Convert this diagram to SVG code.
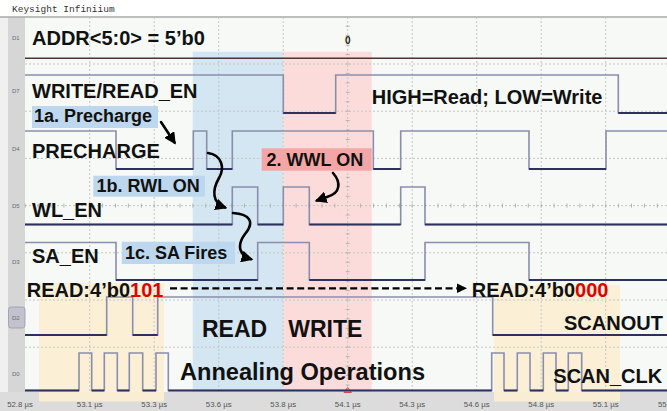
<svg xmlns="http://www.w3.org/2000/svg" width="667" height="411" viewBox="0 0 667 411">
<defs>
<style>
.bg{fill:#f6f9f6}
.grid{stroke:#c4c8c4;stroke-width:1;stroke-dasharray:2,2;fill:none}
.tick{stroke:#b0b4b0;stroke-width:1;fill:none}
.wave{fill:none;stroke:#8a8eac;stroke-width:1.6}
.low{fill:none;stroke:#2c315e;stroke-width:1.8}
.name{font-family:"Liberation Sans",Arial,sans-serif;font-weight:bold;font-size:20px;fill:#111}
.ann{font-family:"Liberation Sans",Arial,sans-serif;font-weight:bold;font-size:18px;fill:#111}
.big{font-family:"Liberation Sans",Arial,sans-serif;font-weight:bold;font-size:23px;fill:#111}
.ch{font-family:"Liberation Sans",Arial,sans-serif;font-size:6px;fill:#6a6a7a}
.time{font-family:"Liberation Sans",Arial,sans-serif;font-size:7.8px;fill:#555}
.red{fill:#e00000}
.arr{fill:none;stroke:#000;stroke-width:2.6;stroke-linecap:round}
</style>
<marker id="ah" viewBox="0 0 10 10" refX="8" refY="5" markerWidth="4.6" markerHeight="4.6" orient="auto" markerUnits="strokeWidth">
<path d="M0,0 L10,5 L0,10 z" fill="#000"/>
</marker>
</defs>

<rect x="0" y="0" width="667" height="411" fill="#ffffff"/>
<text x="12" y="12" font-family="Liberation Mono,monospace" font-size="9.5" fill="#333">Keysight Infiniium</text>
<rect class="bg" x="25" y="17" width="642" height="375"/>
<rect x="0" y="17" width="8" height="375" fill="#f0f0f0"/>
<rect x="8" y="17" width="17" height="375" fill="#d6d6d6"/>
<line x1="0" y1="17" x2="667" y2="17" stroke="#a8a8a8" stroke-width="1.5"/>
<rect x="0" y="392" width="667" height="19" fill="#dcdcdc"/>

<g id="regions">
<rect x="192.7" y="51.7" width="90.6" height="340" fill="#d3e6f1"/>
<rect x="283.3" y="51.7" width="88.4" height="340" fill="#fcdcda"/>
<rect x="39" y="283" width="125" height="118.5" fill="#fbefd2" fill-opacity="0.92"/>
<rect x="494" y="285" width="126" height="116.5" fill="#fbefd2" fill-opacity="0.92"/>
</g>

<g id="grid">
<path class="grid" d="M89.7,17V392M154.2,17V392M218.7,17V392M283.2,17V392M347.7,17V392M412.2,17V392M476.7,17V392M541.2,17V392M605.7,17V392"/>
<path class="grid" d="M25,64H667M25,111.2H667M25,158.4H667M25,205.6H667M25,252.8H667M25,300H667M25,347.2H667"/>
<path class="tick" d="M25.2,203.6v4M38.1,203.6v4M51,203.6v4M63.9,203.6v4M76.8,203.6v4M89.7,203.6v4M102.6,203.6v4M115.5,203.6v4M128.4,203.6v4M141.3,203.6v4M154.2,203.6v4M167.1,203.6v4M180,203.6v4M192.9,203.6v4M205.8,203.6v4M218.7,203.6v4M231.6,203.6v4M244.5,203.6v4M257.4,203.6v4M270.3,203.6v4M283.2,203.6v4M296.1,203.6v4M309,203.6v4M321.9,203.6v4M334.8,203.6v4M360.6,203.6v4M373.5,203.6v4M386.4,203.6v4M399.3,203.6v4M412.2,203.6v4M425.1,203.6v4M438,203.6v4M450.9,203.6v4M463.8,203.6v4M476.7,203.6v4M489.6,203.6v4M502.5,203.6v4M515.4,203.6v4M528.3,203.6v4M541.2,203.6v4M554.1,203.6v4M567,203.6v4M579.9,203.6v4M592.8,203.6v4M605.7,203.6v4M618.6,203.6v4M631.5,203.6v4M644.4,203.6v4M657.3,203.6v4"/>
<path class="tick" d="M345.7,26.2h4M345.7,35.7h4M345.7,45.1h4M345.7,54.6h4M345.7,64h4M345.7,73.4h4M345.7,82.9h4M345.7,92.3h4M345.7,101.8h4M345.7,111.2h4M345.7,120.6h4M345.7,130.1h4M345.7,139.5h4M345.7,149h4M345.7,158.4h4M345.7,167.8h4M345.7,177.3h4M345.7,186.7h4M345.7,196.2h4M345.7,215h4M345.7,224.5h4M345.7,233.9h4M345.7,243.4h4M345.7,252.8h4M345.7,262.2h4M345.7,271.7h4M345.7,281.1h4M345.7,290.6h4M345.7,300h4M345.7,309.4h4M345.7,318.9h4M345.7,328.3h4M345.7,337.8h4M345.7,347.2h4M345.7,356.6h4M345.7,366.1h4M345.7,375.5h4M345.7,385h4"/>
</g>

<g id="axis">
<text class="time" x="20" y="407" text-anchor="middle">52.8 µs</text>
<text class="time" x="89.7" y="407" text-anchor="middle">53.1 µs</text>
<text class="time" x="154.2" y="407" text-anchor="middle">53.3 µs</text>
<text class="time" x="218.7" y="407" text-anchor="middle">53.6 µs</text>
<text class="time" x="283.2" y="407" text-anchor="middle">53.8 µs</text>
<text class="time" x="347.7" y="407" text-anchor="middle">54.1 µs</text>
<text class="time" x="412.2" y="407" text-anchor="middle">54.3 µs</text>
<text class="time" x="476.7" y="407" text-anchor="middle">54.6 µs</text>
<text class="time" x="541.2" y="407" text-anchor="middle">54.8 µs</text>
<text class="time" x="605.7" y="407" text-anchor="middle">55.1 µs</text>
<text class="time" x="658" y="407">55</text>
<polygon points="344,392.5 347.7,387.5 351.4,392.5" fill="#f6b8b0" stroke="#e04848" stroke-width="1"/>
</g>

<g id="ch-D1">
<text class="ch" x="12" y="40">D1</text>
<path d="M25,58.3H667" fill="none" stroke="#4a3535" stroke-width="1.6"/>
<text x="347.7" y="44" text-anchor="middle" font-family="Liberation Sans,Arial,sans-serif" font-weight="bold" font-size="10" fill="#222">0</text>
<text class="name" x="32" y="45">ADDR&lt;5:0&gt; = 5’b0</text>
</g>

<g id="ch-D7">
<text class="ch" x="12" y="93">D7</text>
<path class="wave" d="M25,75H283.3V113H335.7V75H618.3V113H667"/>
<path class="low" d="M283.3,113H335.7M618.3,113H667"/>
<text class="name" x="32" y="98.3">WRITE/READ_EN</text>
<text class="name" x="371.7" y="104">HIGH=Read; LOW=Write</text>
</g>

<g id="ch-D4">
<text class="ch" x="12" y="151">D4</text>
<path class="wave" d="M25,131H116V169H193.3V131H206.7V169H232.3V131H373.3V169H400.7V131H529V169H606V131H667"/>
<path class="low" d="M116,169H193.3M206.7,169H232.3M373.3,169H400.7M529,169H606"/>
<text class="name" x="32" y="157.5">PRECHARGE</text>
</g>

<g id="ch-D5">
<text class="ch" x="12" y="208">D5</text>
<path class="wave" d="M25,224.5H232.3V187H257.7V224.5H283.3V187H309.3V224.5H400.7V187H425V224.5H667"/>
<path class="low" d="M25,224.5H232.3M257.7,224.5H283.3M309.3,224.5H400.7M425,224.5H667"/>
<text class="name" x="32" y="217.3">WL_EN</text>
</g>

<g id="ch-D3">
<text class="ch" x="12" y="264">D3</text>
<path class="wave" d="M25,242.5H116V280H257.7V242.5H309.3V280H425V242.5H529V280H667"/>
<path class="low" d="M116,280H257.7M309.3,280H425M529,280H667"/>
<text class="name" x="32" y="263">SA_EN</text>
</g>

<g id="ch-D2">
<rect x="8.5" y="307" width="16.5" height="21" rx="2.5" fill="#c2c2ce" stroke="#9a9aaa" stroke-width="0.8"/>
<text class="ch" x="12" y="320">D2</text>
<path class="wave" d="M25,335H106.7V297H132.7V335H157.7V297H492.7V335H667"/>
<path class="low" d="M25,335H106.7M132.7,335H157.7M492.7,335H667"/>
<text class="name" x="564" y="330">SCANOUT</text>
</g>

<g id="ch-D0">
<text class="ch" x="12" y="376">D0</text>
<path class="wave" d="M25,390.5H79V353H91.7V390.5H104.3V353H117.3V390.5H129.3V353H142.7V390.5H156V353H168.3V390.5H491.7V353H504V390.5H517.3V353H530V390.5H543.3V353H556V390.5H568.3V353H581.7V390.5H667"/>
<path class="low" d="M25,390.5H79M91.7,390.5H104.3M117.3,390.5H129.3M142.7,390.5H156M168.3,390.5H491.7M504,390.5H517.3M530,390.5H543.3M556,390.5H568.3M581.7,390.5H667"/>
<text class="name" x="553.3" y="383.3">SCAN_CLK</text>
</g>

<g id="label-1a">
<rect x="32" y="106" width="126" height="22" fill="#bdd7ee"/>
<text class="ann" x="34" y="121.5">1a. Precharge</text>
</g>
<g id="label-1b">
<rect x="93.3" y="175.7" width="111.7" height="21" fill="#bdd7ee"/>
<text class="ann" x="96.5" y="192">1b. RWL ON</text>
</g>
<g id="label-1c">
<rect x="121.7" y="241.7" width="113.3" height="22.3" fill="#bdd7ee"/>
<text class="ann" x="125" y="259">1c. SA Fires</text>
</g>
<g id="label-2">
<rect x="261.7" y="148.3" width="110" height="22.4" fill="#f4a6a6"/>
<text class="ann" x="266.5" y="166">2. WWL ON</text>
</g>

<g id="read-values">
<text class="name" x="26.7" y="296.7">READ:4’b0<tspan class="red">101</tspan></text>
<text class="name" x="471.7" y="296.7">READ:4’b0<tspan class="red">000</tspan></text>
</g>

<g id="phase-labels">
<text class="big" x="202" y="336.7">READ</text>
<text class="big" x="288.3" y="336.7">WRITE</text>
<text class="big" x="180" y="380" textLength="245" lengthAdjust="spacingAndGlyphs">Annealing Operations</text>
</g>

<g id="connectors">
<path d="M170,288.3H458" fill="none" stroke="#000" stroke-width="2.2" stroke-dasharray="7,3.6"/>
<polygon points="457,283.5 467,288.3 457,293.1" fill="#000"/>
<path class="arr" d="M161,122 L174.5,142.5" marker-end="url(#ah)"/>
<path class="arr" d="M208,153 C222,155 225,168 219,178 C212,190 212,203 225,207.5" marker-end="url(#ah)"/>
<path class="arr" d="M233,213 C250,214 255,222 245,234 C236,246 240,256 251,259.2" marker-end="url(#ah)"/>
<path class="arr" d="M333,173 C341,182 341,193 327,197 L317,200.5" marker-end="url(#ah)"/>
</g>
</svg>
